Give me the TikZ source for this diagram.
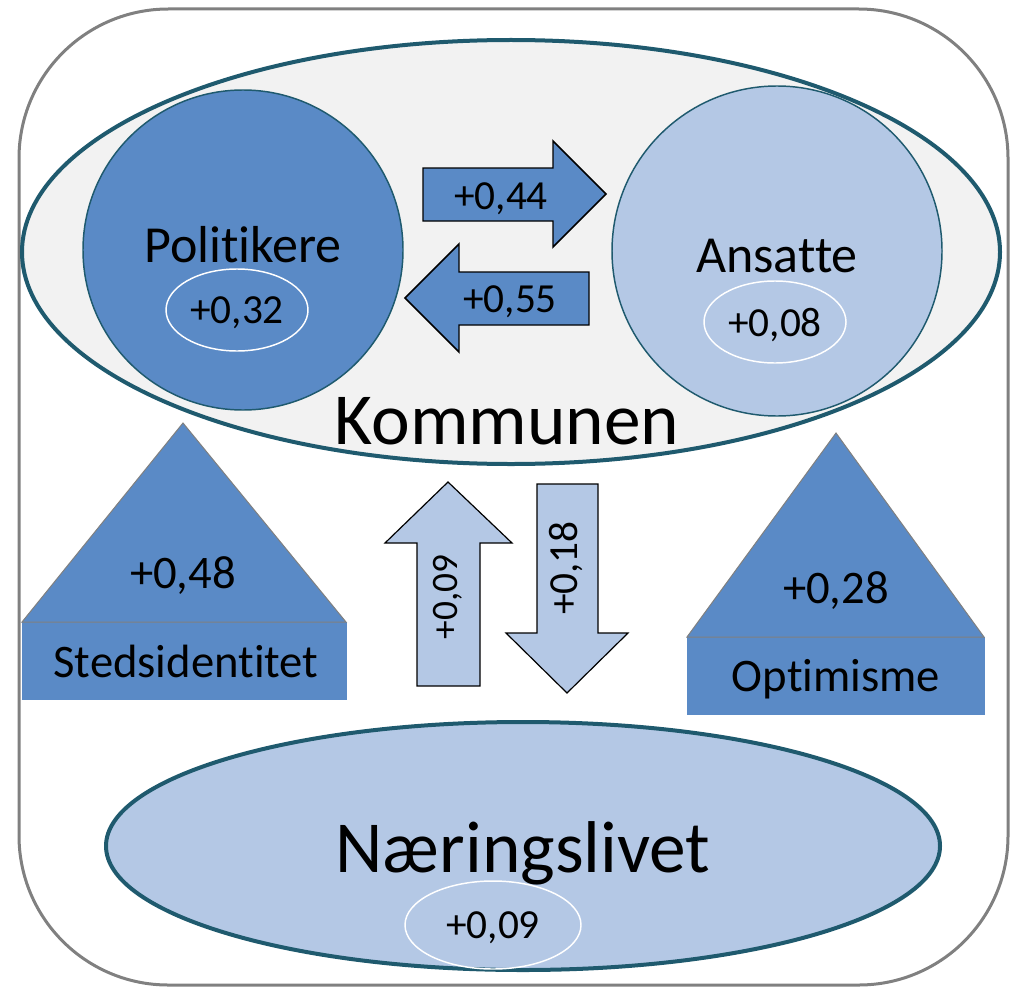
\documentclass[tikz,border=0pt]{standalone}
\usepackage{fontspec}
\setmainfont{Carlito}[RawFeature=-liga]
\usetikzlibrary{shapes.geometric}

\definecolor{kant}{HTML}{1F5A6E}
\definecolor{moerk}{HTML}{5A8AC6}
\definecolor{lys}{HTML}{B4C8E5}
\definecolor{bakgrunn}{HTML}{F2F2F2}
\definecolor{ramme}{HTML}{808080}

\newcommand{\fs}[1]{\fontsize{#1}{#1}\selectfont}

\begin{document}
\begin{tikzpicture}[x=0.75pt,y=-0.75pt,
    pil/.style={draw=black, line width=1.1pt, line join=miter},
    verdi/.style={ellipse, draw=white, line width=1.1pt, inner sep=0pt, text depth=0pt},
    tekst/.style={inner sep=0pt, anchor=base}]
    \useasboundingbox (0,0) rectangle (1012,988);
    \draw[ramme, line width=2.25pt, rounded corners=112pt] (19,9) rectangle (1008,985);
    %
    \draw[kant, fill=bakgrunn, line width=3pt] (511,252) ellipse [x radius=489, y radius=212];
    \draw[kant, fill=moerk, line width=1.1pt] (243,250) circle [radius=160];
    \draw[kant, fill=lys, line width=1.1pt] (777,251) circle [radius=165];
    \node[tekst] (politikere) at (243,262) {\fs{39}Politikere};
    \node[tekst] (ansatte) at (777,272) {\fs{39}Ansatte};
    \node[tekst] (kommunen) at (507,444) {\fs{55}Kommunen};
    \node[verdi, minimum width=106.5pt, minimum height=61.5pt] (v32) at (237,310) {\fs{31}+0,32};
    \node[verdi, minimum width=106.5pt, minimum height=61.5pt] (v08) at (775,322) {\fs{31}+0,08};
    %
    \draw[pil, fill=moerk] (423,168) -- (553,168) -- (553,141) -- (606,194) -- (553,247) -- (553,221) -- (423,221) -- cycle;
    \draw[pil, fill=moerk] (589,272) -- (459,272) -- (459,244) -- (405,298) -- (459,352) -- (459,325) -- (589,325) -- cycle;
    \node[tekst] (v44) at (501,209) {\fs{31}+0,44};
    \node[tekst] (v55) at (510,312) {\fs{31}+0,55};
    %
    \draw[pil, fill=lys, line width=0.9pt] (417,686) -- (417,543) -- (385,543) -- (448,482) -- (512,543) -- (480,543) -- (480,686) -- cycle;
    \draw[pil, fill=lys, line width=0.9pt] (537,484) -- (598,484) -- (598,633) -- (628,633) -- (567,693) -- (506,633) -- (537,633) -- cycle;
    \node[rotate=90, inner sep=0pt] (v09a) at (448,597) {\fs{28}+0,09};
    \node[rotate=90, inner sep=0pt] (v18) at (566,568) {\fs{31}+0,18};
    %
    \fill[moerk] (22,622) rectangle (347,700);
    \draw[ramme, fill=moerk, line width=0.75pt] (22,622) -- (183,423) -- (346,622) -- cycle;
    \node[tekst] (v48) at (183,588) {\fs{35}+0,48};
    \node[tekst] (sted) at (186,677) {\fs{35}Stedsidentitet};
    \fill[moerk] (687,637) rectangle (985,715);
    \draw[ramme, fill=moerk, line width=0.75pt] (687,637) -- (836,433) -- (984,637) -- cycle;
    \node[tekst] (v28) at (836,603) {\fs{35}+0,28};
    \node[tekst] (optimisme) at (836,691) {\fs{35}Optimisme};
    %
    \draw[kant, fill=lys, line width=3pt] (523,846) ellipse [x radius=417, y radius=124];
    \node[tekst] (naering) at (523,872) {\fs{55}Næringslivet};
    \node[verdi, minimum width=132pt, minimum height=66pt] (v09b) at (493,925) {\fs{31}+0,09};
\end{tikzpicture}
\end{document}
